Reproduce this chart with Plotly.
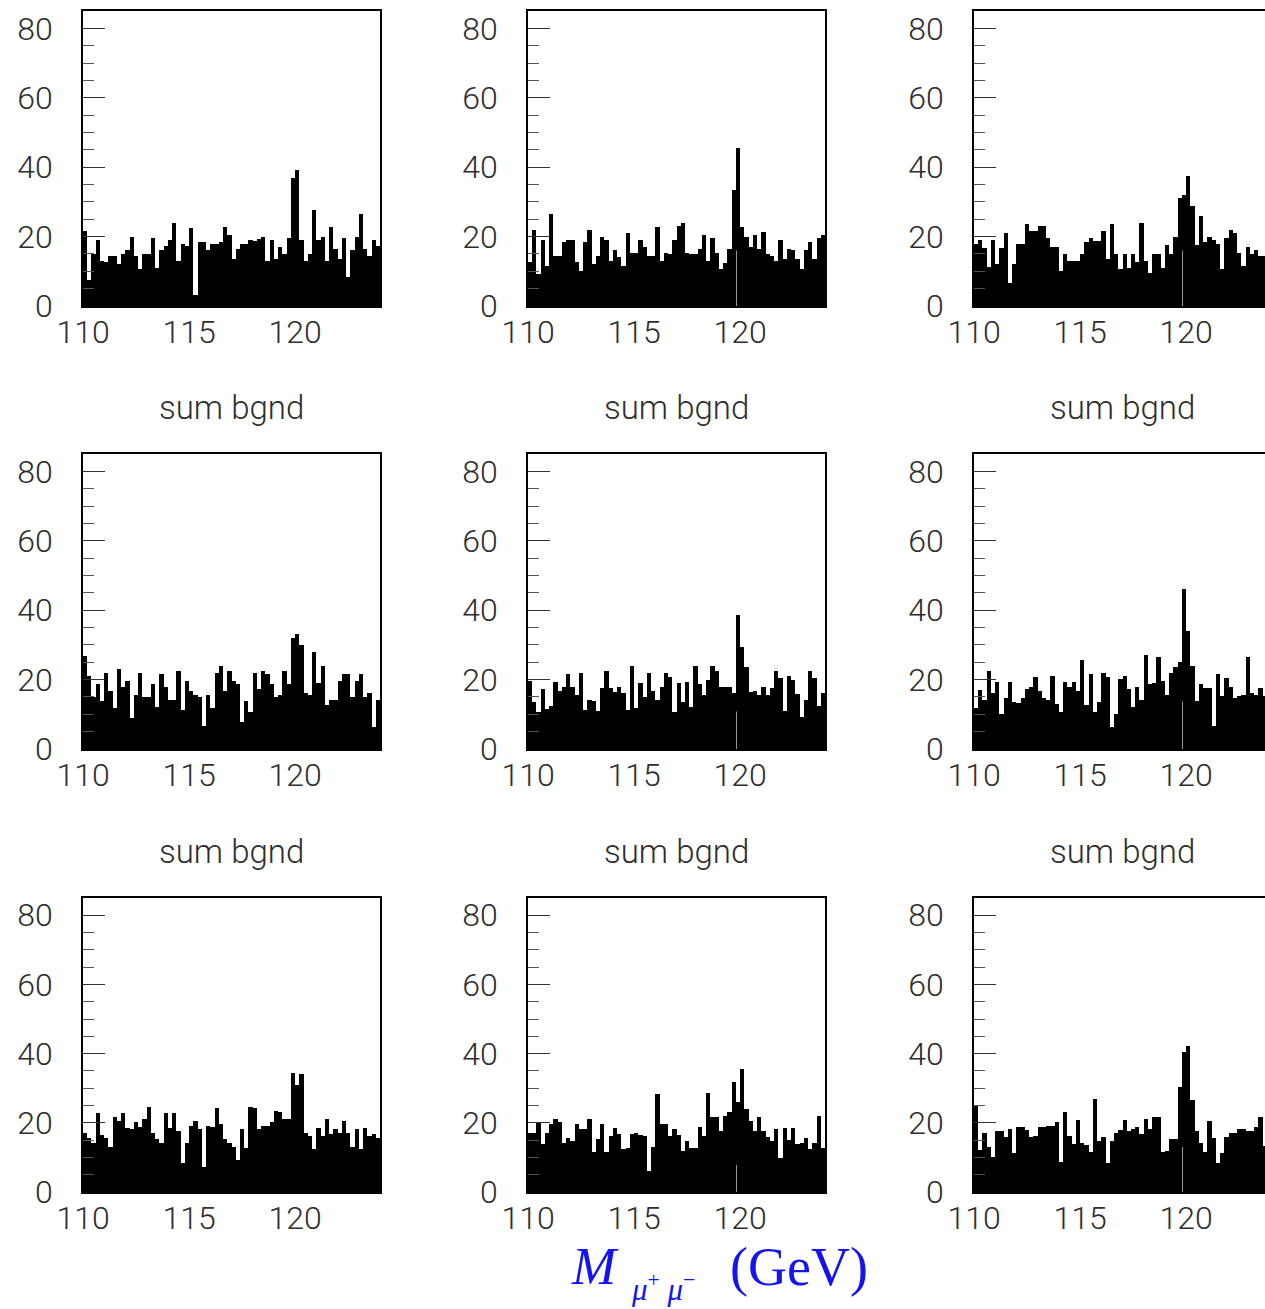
import plotly.graph_objects as go

# ---------------- data ----------------
bin_low = 110.0
bin_width = 0.2
n_bins = 70
bin_centers = [round(bin_low + bin_width * (i + 0.5), 2) for i in range(n_bins)]

counts_1 = [21.6, 7.5, 15, 19, 13, 12.6, 14.4, 14.4, 12, 15,
            16, 20, 14.4, 10.6, 15, 15, 19.5, 11, 16, 17.4,
            19, 24, 13, 17.8, 17.4, 22.5, 3.2, 18.5, 18.5, 16,
            17.8, 17.8, 18.5, 22.8, 20.4, 13.4, 16.4, 17.8, 17.8, 19,
            18.7, 19.2, 20, 13, 19, 13.4, 17, 15, 19.5, 37,
            39.3, 19, 13, 15, 27.8, 19, 20, 13, 22.8, 16.4,
            13.4, 19.5, 8.4, 16, 20, 26.5, 16.4, 14.4, 19, 17.4]

counts_2 = [12.6, 22, 9.2, 19, 11.5, 26.4, 14.5, 14.5, 18.5, 19,
            19, 12.6, 10, 18.5, 22, 12, 14.5, 20, 19, 13,
            16, 14, 11.5, 21, 15.4, 15.4, 19, 17, 14.5, 14.5,
            22.8, 13, 15.4, 15, 19, 23, 24, 15.4, 15, 15,
            16.5, 20.4, 13, 19.5, 15.4, 10.6, 12.5, 16.5, 33.4, 45.4,
            22.8, 20, 17, 20.4, 16.5, 21.4, 15, 14.5, 13, 19,
            13.5, 16.5, 16, 13.5, 10.6, 16, 18.4, 13.5, 19.5, 20.4]

counts_3 = [18, 19, 16.6, 11.1, 19, 12, 16.6, 20.9, 6.5, 12,
            18, 18, 23.5, 21.6, 21.6, 23, 23, 19.5, 17, 17,
            10, 15, 13, 13, 13, 15, 18.5, 19.5, 18.8, 18.8,
            21.6, 13.5, 23.5, 15, 10.6, 15, 11, 15, 12.6, 24,
            13, 9.6, 15, 15, 11, 17.6, 15, 20, 31, 32,
            37.4, 28.9, 17.6, 26, 18.5, 20, 19, 18, 10.6, 19.5,
            22, 21, 15.3, 11.6, 17, 15, 16, 14.4, 14.4, 15]

counts_4 = [26.7, 21, 15, 18.7, 13.7, 22, 16.7, 11.7, 23, 17.8,
            19.6, 9, 15.6, 22, 15, 15, 18.7, 12, 21.6, 18,
            14, 14, 22.6, 11.3, 19.6, 16.7, 15.6, 15, 6.6, 15.6,
            11.7, 22, 24, 16.7, 22.6, 19.6, 18.7, 7.7, 13.7, 10.6,
            22, 17.2, 22.6, 21.6, 18.7, 15, 15.6, 22.6, 18.7, 32,
            33, 30, 16, 15.6, 28, 19, 24, 12.7, 14.1, 14.1,
            19.6, 21.6, 21.6, 15, 19.6, 21.6, 15, 16, 6.3, 14.1]

counts_5 = [19.7, 13.5, 10.6, 17.2, 11.5, 12.5, 19.2, 16.7, 18, 21.6,
            18, 15.6, 22, 11.3, 14.1, 13.7, 11, 17.5, 22.6, 17.5,
            16.3, 18, 16, 11.3, 24, 11.7, 19, 15.1, 22, 16.6,
            14.1, 18, 22, 20.7, 10.6, 19, 13.5, 19.4, 12, 24,
            18.7, 15.6, 19.9, 24, 22.5, 17.8, 18, 18, 16, 38.5,
            29.5, 23.5, 16.3, 16.6, 15.6, 18, 15.6, 17.5, 22.6, 20.6,
            11, 21, 20, 15.9, 9.1, 14.1, 22.5, 20.6, 12.5, 16]

counts_6 = [11.7, 17, 14.1, 22.6, 16, 19.2, 10.1, 14.6, 19.2, 13.5,
            13.2, 14.6, 17.3, 17.8, 20.7, 16.6, 14.6, 14.1, 21, 13,
            10.6, 19.2, 17.8, 19.2, 16.6, 25.7, 12.7, 21.6, 10.6, 13.5,
            22, 20.7, 6.3, 10.1, 20.1, 21, 17.2, 12.2, 18, 14.1,
            27, 18.8, 19, 26.5, 19.6, 15.6, 22, 23.6, 25, 46,
            34, 24, 13.7, 18.7, 17.7, 17.7, 6.7, 21.6, 15.3, 20.6,
            18, 14.8, 15.4, 15.6, 26.5, 16, 15.6, 17.5, 15.3, 15]

counts_7 = [17.1, 15.5, 14.2, 22.7, 16.5, 15.5, 13.1, 21.6, 20.6, 22.7,
            18.6, 18.1, 20.1, 18.7, 21.1, 24.6, 17.1, 15.2, 14.1, 22.7,
            18.6, 22.7, 17.6, 8.3, 14.1, 19.1, 20.6, 18.1, 7.1, 19.1,
            18.7, 24.2, 19.6, 15.2, 14.1, 13.1, 9.2, 18.1, 12.6, 24.6,
            24.2, 18.1, 19.1, 19.1, 20.1, 23.5, 23, 21.1, 21.1, 34.5,
            31, 34, 17.1, 16.2, 12.3, 18.6, 16.2, 21.1, 16.7, 18.1,
            17.1, 20.6, 17.1, 13.1, 18.1, 12.3, 18.6, 16.2, 16.7, 15.5]

counts_8 = [17.1, 17.1, 20, 13.8, 17.1, 19.6, 21, 20.1, 14.2, 15.7,
            14.8, 19.6, 18.1, 18.1, 21.1, 11.6, 15.2, 19.6, 11.6, 16.2,
            18.6, 16.9, 12.4, 12.6, 16.7, 17.1, 16.5, 16.2, 6.2, 13.1,
            28.2, 19.6, 19.6, 16.2, 18.1, 16.5, 11.8, 14.7, 12.6, 12.6,
            18.7, 16.2, 28.7, 21.6, 21.6, 17.7, 22, 23.2, 31.7, 26.1,
            35.5, 24, 20.6, 17.7, 21.6, 17.7, 15.8, 14.8, 18.1, 9.9,
            18.6, 15, 18.6, 13.8, 14.2, 15.7, 12.3, 14.1, 22, 12.6]

counts_9 = [24.8, 12.1, 17.1, 13.1, 10.2, 17.7, 17.7, 15.8, 18.1, 11.2,
            18.7, 18.7, 17.9, 15.8, 16.2, 18.7, 18.7, 19.2, 19.2, 20.1,
            8.6, 23.2, 16.2, 13.8, 20.8, 14.1, 13.6, 11.6, 27, 14.7,
            16, 8.3, 14.7, 17.1, 17.9, 20.8, 17.7, 18.2, 18.7, 16.9,
            21.1, 18.1, 21.6, 21.6, 11.5, 11.8, 15.2, 15.2, 30.4, 40.5,
            42.2, 26.6, 17.7, 14.2, 11.6, 20.6, 15.7, 8.3, 11.2, 16,
            17.1, 17.1, 18.2, 18.2, 17.6, 17.6, 18.7, 21.6, 13.3, 14]

panel_counts = [counts_1, counts_2, counts_3, counts_4, counts_5,
                counts_6, counts_7, counts_8, counts_9]

# faint grey line drawn at the signal mass inside some panels (height in counts)
signal_mass = 119.83
signal_line_top = [0, 16, 16, 0, 10.8, 13.7, 0, 7.8, 13]

panel_titles = ["sum bgnd"] * 9
x_tick_vals = [110, 115, 120]
y_range_max = 85
x_range = [110, 124]

# ---------------- layout geometry (pixels) ----------------
W, H = 1265, 1309
col_px = [(83, 380), (528, 825), (974, 1271)]
row_px = [(11, 306), (454, 749), (898, 1192)]

SANS = "Roboto, Liberation Sans, Arial, sans-serif"
TICK_FONT = dict(family=SANS, size=32, color="#2e2e2e", weight=300)

fig = go.Figure()
layout_axes = {}
annotations = []

for k in range(9):
    r, c = divmod(k, 3)
    sfx = "" if k == 0 else str(k + 1)
    xname, yname = "x" + sfx, "y" + sfx
    x0, x1 = col_px[c]
    y0, y1 = row_px[r]
    scale = (x1 - x0) / (x_range[1] - x_range[0])
    vis_x1 = min(x1, W)
    xmax = x_range[0] + (vis_x1 - x0) / scale
    clipped = vis_x1 < x1

    fig.add_trace(go.Bar(
        x=bin_centers, y=panel_counts[k], width=bin_width,
        marker=dict(color="black", line=dict(width=0)),
        xaxis=xname, yaxis=yname, showlegend=False, hoverinfo="x+y"))

    if signal_line_top[k] > 0:
        fig.add_trace(go.Scatter(
            x=[signal_mass, signal_mass], y=[0, signal_line_top[k]],
            mode="lines", line=dict(color="#9a9a9a", width=1),
            xaxis=xname, yaxis=yname, showlegend=False, hoverinfo="skip"))

    layout_axes["xaxis" + sfx] = dict(
        domain=[x0 / W, vis_x1 / W], range=[x_range[0], xmax], anchor=yname,
        showline=True, linecolor="black", linewidth=1.5, mirror=True,
        ticks="", tickvals=x_tick_vals, tickfont=TICK_FONT,
        ticklabelstandoff=-3, showgrid=False, zeroline=False)
    layout_axes["yaxis" + sfx] = dict(
        domain=[1 - y1 / H, 1 - y0 / H], range=[0, y_range_max], anchor=xname,
        showline=True, linecolor="black", linewidth=1.5, mirror=not clipped,
        ticks="inside", ticklen=22, tickwidth=1, tickcolor="#333",
        tick0=0, dtick=20, tickfont=TICK_FONT, ticklabelstandoff=22,
        minor=dict(ticks="inside", ticklen=11, tickwidth=1, tickcolor="#555",
                   tick0=0, dtick=5, showgrid=False),
        showgrid=False, zeroline=False)

    # panel title (sits above each panel; the first row's titles fall off the page)
    ty = y0 - 47
    if ty > 0:
        annotations.append(dict(
            text=panel_titles[k], xref="paper", yref="paper",
            x=((x0 + x1) / 2) / W, y=1 - ty / H, xanchor="center", yanchor="middle",
            showarrow=False,
            font=dict(family=SANS, size=33, color="#2e2e2e", weight=300)))

# axis title  M_{mu+ mu-} (GeV)
BLUE = "#1414f0"
SERIF = "Liberation Serif, Times New Roman, serif"
annotations.append(dict(text="<i>M</i>", xref="paper", yref="paper",
                        x=595 / W, y=1 - 1266 / H, xanchor="center", yanchor="middle",
                        showarrow=False, font=dict(family=SERIF, size=53, color=BLUE)))
annotations.append(dict(text="<i>μ</i><sup>+</sup> <i>μ</i><sup>−</sup>", xref="paper", yref="paper",
                        x=663 / W, y=1 - 1287 / H, xanchor="center", yanchor="middle",
                        showarrow=False, font=dict(family=SERIF, size=31, color=BLUE)))
annotations.append(dict(text="(GeV)", xref="paper", yref="paper",
                        x=799 / W, y=1 - 1267 / H, xanchor="center", yanchor="middle",
                        showarrow=False, font=dict(family=SERIF, size=54, color=BLUE)))

fig.update_layout(
    width=W, height=H,
    margin=dict(l=0, r=0, t=0, b=0, autoexpand=False),
    paper_bgcolor="white", plot_bgcolor="white",
    bargap=0, barmode="overlay",
    annotations=annotations,
    **layout_axes)

fig.write_html("out.html", config={"displayModeBar": False},
               post_script="document.body.style.margin='0px';document.body.style.overflow='hidden';")
